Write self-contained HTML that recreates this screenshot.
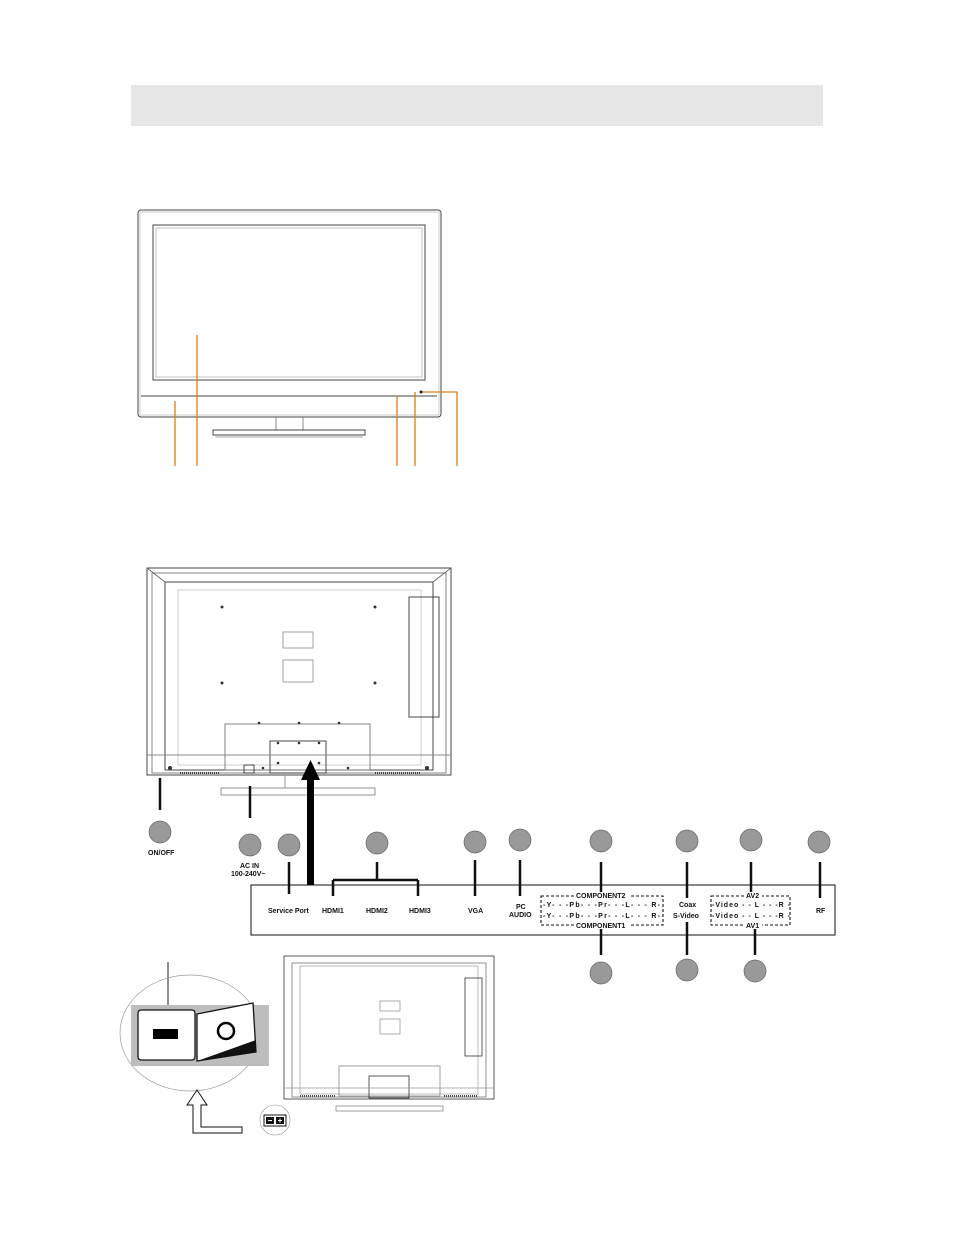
<!DOCTYPE html>
<html><head><meta charset="utf-8"><style>
html,body{margin:0;padding:0;background:#fff;}
svg{display:block;}
text{font-family:"Liberation Sans",Arial,sans-serif;font-weight:bold;font-size:7px;fill:#111;}
</style></head><body>
<svg width="954" height="1235" viewBox="0 0 954 1235" xmlns="http://www.w3.org/2000/svg">
<rect x="131" y="85" width="692" height="41" fill="#e6e6e6"/>

<!-- Front TV -->
<g fill="none" stroke="#444" stroke-width="1">
<rect x="138" y="210" width="303" height="207" rx="3"/>
<rect x="140" y="212" width="299" height="203" stroke="#aaa" stroke-width="0.6"/>
<rect x="153" y="225" width="272" height="155"/>
<rect x="156" y="228" width="266" height="149" stroke="#999" stroke-width="0.6"/>
<path d="M141 396 H437"/>
<path d="M276 417 V430 M303 417 V430" stroke="#888"/>
<rect x="213" y="430" width="152" height="5"/>
<path d="M216 435 V437 H362 V435" stroke="#aaa"/>
</g>
<g stroke="#e07a1c" stroke-width="1.3" fill="none">
<path d="M175 401 V466"/>
<path d="M197 335 V466"/>
<path d="M397 396 V466"/>
<path d="M415 392 V466"/>
<path d="M422 392 H457 V466"/>
</g>
<circle cx="421" cy="392" r="1.5" fill="#222"/>

<!-- Back TV -->
<g fill="none" stroke="#333" stroke-width="0.9">
<rect x="147" y="568" width="304" height="207"/>
<rect x="152" y="573" width="294" height="200" stroke="#777"/>
<rect x="165" y="582" width="268" height="188"/>
<rect x="178" y="590" width="243" height="175" stroke="#aaa" stroke-width="0.6"/>
<path d="M147 568 L165 582 M451 568 L433 582" stroke="#666"/>
<rect x="409" y="597" width="30" height="120"/>
<rect x="283" y="632" width="30" height="16" stroke="#999"/>
<rect x="283" y="660" width="30" height="22" stroke="#999"/>
<rect x="225" y="724" width="145" height="46" stroke="#777"/>
<rect x="270" y="741" width="56" height="32"/>
<path d="M147 755 H451" stroke="#888"/>
<rect x="244" y="765" width="10" height="8"/>
<rect x="221" y="788" width="154" height="7" stroke="#888"/>
<path d="M285 775 V788 M310 775 V788" stroke="#888"/>
</g>
<g fill="#333">
<circle cx="222" cy="607" r="1.5"/><circle cx="375" cy="607" r="1.5"/>
<circle cx="222" cy="683" r="1.5"/><circle cx="375" cy="683" r="1.5"/>
<circle cx="259" cy="723" r="1.3"/><circle cx="299" cy="723" r="1.3"/><circle cx="339" cy="723" r="1.3"/>
<circle cx="278" cy="743" r="1.3"/><circle cx="299" cy="743" r="1.3"/><circle cx="319" cy="743" r="1.3"/>
<circle cx="278" cy="763" r="1.3"/><circle cx="319" cy="763" r="1.3"/>
<circle cx="263" cy="768" r="1.3"/><circle cx="348" cy="768" r="1.3"/>
<circle cx="170" cy="768" r="2"/><circle cx="427" cy="768" r="2"/>
</g>
<path d="M180 773 H220 M375 773 H420" stroke="#444" stroke-width="2" stroke-dasharray="1 1"/>

<!-- back connectors -->
<g stroke="#111" stroke-width="2.5" fill="none">
<path d="M160 778 V810"/>
<path d="M250 786 V818"/>
<path d="M289 862 V894"/>
<path d="M377 862 V880 M333 880 H418 M333 880 V896 M418 880 V896"/>
<path d="M475 860 V896"/>
<path d="M520 860 V896"/>
<path d="M601 862 V898"/>
<path d="M687 862 V898"/>
<path d="M751 862 V898"/>
<path d="M820 862 V898"/>
<path d="M601 922 V955"/>
<path d="M687 922 V955"/>
<path d="M755 922 V955"/>
</g>
<rect x="307" y="778" width="7" height="107" fill="#000"/>
<polygon points="301,780 310.5,760 320,780" fill="#000"/>

<g fill="#999" stroke="#666" stroke-width="0.7">
<circle cx="160" cy="832" r="11"/>
<circle cx="250" cy="845" r="11"/>
<circle cx="289" cy="845" r="11"/>
<circle cx="377" cy="843" r="11"/>
<circle cx="475" cy="842" r="11"/>
<circle cx="520" cy="840" r="11"/>
<circle cx="601" cy="841" r="11"/>
<circle cx="687" cy="841" r="11"/>
<circle cx="751" cy="840" r="11"/>
<circle cx="819" cy="842" r="11"/>
<circle cx="601" cy="973" r="11"/>
<circle cx="687" cy="970" r="11"/>
<circle cx="755" cy="971" r="11"/>
</g>
<text x="148" y="855">ON/OFF</text>
<text x="240" y="868">AC IN</text>
<text x="231" y="876">100-240V~</text>

<rect x="251" y="885" width="584" height="50" fill="none" stroke="#111" stroke-width="1"/>
<text x="268" y="913">Service Port</text>
<text x="322" y="913">HDMI1</text>
<text x="366" y="913">HDMI2</text>
<text x="409" y="913">HDMI3</text>
<text x="468" y="913">VGA</text>
<text x="516" y="909">PC</text>
<text x="509" y="917">AUDIO</text>
<g fill="none" stroke="#111" stroke-width="1.1" stroke-dasharray="3 2">
<rect x="541" y="896" width="122" height="29"/>
<rect x="711" y="896" width="79" height="29"/>
</g>
<rect x="574" y="892" width="56" height="7" fill="#fff"/>
<rect x="574" y="922" width="56" height="7" fill="#fff"/>
<rect x="744" y="892" width="18" height="7" fill="#fff"/>
<rect x="744" y="922" width="18" height="7" fill="#fff"/>
<text x="576" y="898">COMPONENT2</text>
<text x="576" y="928">COMPONENT1</text>
<text x="746" y="898">AV2</text>
<text x="746" y="928">AV1</text>
<text x="543" y="907" textLength="117" lengthAdjust="spacing">-Y- - -Pb- - -Pr- - -L- - - R-</text>
<text x="543" y="918" textLength="117" lengthAdjust="spacing">-Y- - -Pb- - -Pr- - -L- - - R-</text>
<text x="679" y="907">Coax</text>
<text x="673" y="918">S-Video</text>
<text x="712" y="907" textLength="78" lengthAdjust="spacing">-Video - - L - - -R -</text>
<text x="712" y="918" textLength="78" lengthAdjust="spacing">-Video - - L - - -R -</text>
<text x="816" y="913">RF</text>

<!-- switch detail -->
<path d="M168 962 V1010" stroke="#222" stroke-width="1"/>
<ellipse cx="190" cy="1033" rx="70" ry="58" fill="none" stroke="#999" stroke-width="0.7"/>
<rect x="131" y="1005" width="138" height="61" fill="#bdbdbd"/>
<rect x="138" y="1010" width="57" height="50" rx="3" fill="#fff" stroke="#111" stroke-width="1.3"/>
<rect x="153" y="1029" width="25" height="10" fill="#000"/>
<path d="M197 1014 L253 1003 L256 1052 L197 1061 Z" fill="#fff" stroke="#111" stroke-width="1.3"/>
<path d="M200 1060 L256 1052 L256 1040 Z" fill="#111"/>
<circle cx="226" cy="1031" r="8" fill="none" stroke="#000" stroke-width="2.5"/>
<path d="M193 1133 V1105 L187 1105 L197 1090 L207 1105 L201 1105 V1127 H242 V1133 Z" fill="#fff" stroke="#111" stroke-width="1"/>

<!-- small back TV -->
<g fill="none" stroke="#333" stroke-width="0.8">
<rect x="284" y="956" width="210" height="143"/>
<rect x="292" y="963" width="194" height="134" stroke="#777"/>
<rect x="300" y="966" width="178" height="128" stroke="#aaa"/>
<rect x="465" y="978" width="17" height="78"/>
<rect x="380" y="1001" width="20" height="10" stroke="#999"/>
<rect x="380" y="1019" width="20" height="15" stroke="#999"/>
<rect x="339" y="1066" width="101" height="30" stroke="#888"/>
<rect x="369" y="1076" width="40" height="22"/>
<rect x="336" y="1106" width="107" height="5" stroke="#888"/>
<path d="M284 1088 H494" stroke="#999"/>
</g>
<path d="M300 1096 H336 M444 1096 H478" stroke="#444" stroke-width="2" stroke-dasharray="1 1"/>
<circle cx="275" cy="1120" r="15" fill="none" stroke="#999" stroke-width="0.6"/>
<rect x="264" y="1115" width="22" height="11" fill="#fff" stroke="#111"/>
<rect x="266" y="1117" width="8" height="7" fill="#111"/>
<rect x="276" y="1117" width="8" height="7" fill="#111"/>
<path d="M268 1120.5 H272" stroke="#fff"/>
<path d="M278 1120.5 H282 M280 1118.5 V1122.5" stroke="#fff"/>
</svg>
</body></html>
